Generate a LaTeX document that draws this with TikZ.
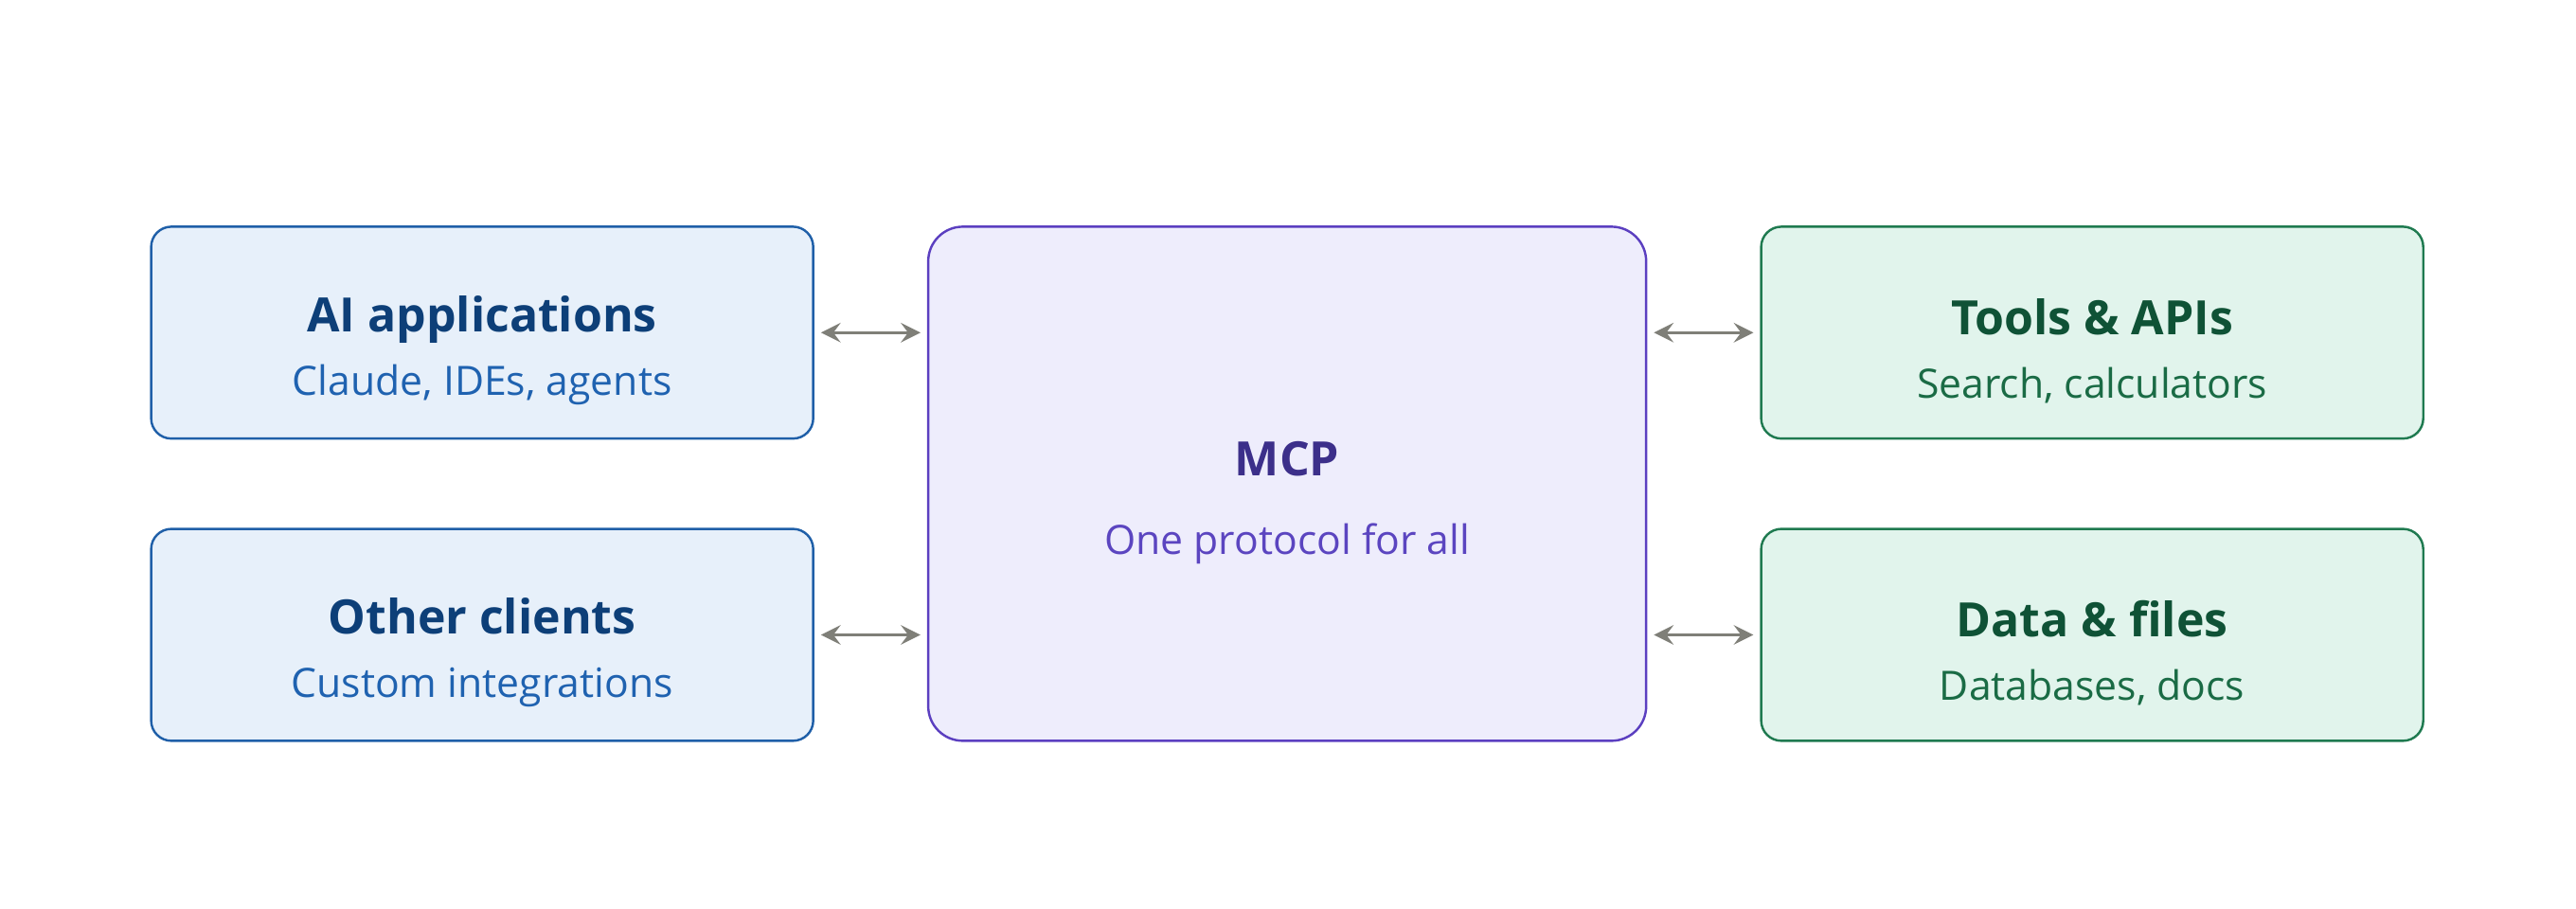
\documentclass[tikz,border=0pt]{standalone}
\usepackage{fontspec}
\setmainfont{Open Sans}
\definecolor{couleurbackclnt}{HTML}{E7F0FA}
\definecolor{couleurbordclnt}{HTML}{1F5FA8}
\definecolor{couleurtitrclnt}{HTML}{0D3F78}
\definecolor{couleurtextclnt}{HTML}{1F62B0}
\definecolor{couleurbackmcp}{HTML}{EEEDFC}
\definecolor{couleurbordmcp}{HTML}{5B3FC0}
\definecolor{couleurtitrmcp}{HTML}{3C2F8A}
\definecolor{couleurtextmcp}{HTML}{5B45C0}
\definecolor{couleurbacksrvr}{HTML}{E1F4EC}
\definecolor{couleurbordsrvr}{HTML}{1F7A50}
\definecolor{couleurtitrsrvr}{HTML}{0F5236}
\definecolor{couleurtextsrvr}{HTML}{1A6B45}
\definecolor{couleurlien}{HTML}{7F7F78}
\newcommand{\lienclnt}[2]{\draw[lien] (#1.east) -- (#1.east -| #2.west);}
\newcommand{\liensrvr}[2]{\draw[lien] (#2.west -| #1.east) -- (#2.west);}
\tikzset{
		basic/.style={draw, rounded corners=3.5pt, line width=0.4pt, minimum width=4.03cm, minimum height=1.29cm, align=center, inner sep=0pt},
		client/.style={basic, fill=couleurbackclnt, draw=couleurbordclnt},
		mcp/.style={basic, rounded corners=6pt, fill=couleurbackmcp, draw=couleurbordmcp, minimum width=4.37cm, minimum height=3.13cm},
		serveur/.style={basic, fill=couleurbacksrvr, draw=couleurbordsrvr},
		lien/.style={<->, >=stealth, couleurlien, line width=0.5pt, shorten <=0.04cm, shorten >=0.04cm}
	}
\newcommand{\titre}[4]{\rule{0pt}{12.5pt}{\fontsize{8.2}{10}\selectfont\bfseries\color{#1}#2}\\[#4]{\fontsize{7}{9}\selectfont\color{#1}#3}}
\begin{document}
\begin{tikzpicture}
		\useasboundingbox (0,0) rectangle (15.68,5.53);
		% clients
		\node[client](aiapps) at (2.935,3.505){\titre{couleurtitrclnt}{AI applications}{\color{couleurtextclnt}Claude, IDEs, agents}{-1pt}};
		\node[client](autres) at (2.935,1.665){\titre{couleurtitrclnt}{Other clients}{\color{couleurtextclnt}Custom integrations}{-1pt}};
		% protocole
		\node[mcp](mcp) at (7.835,2.585){\titre{couleurtitrmcp}{MCP}{\color{couleurtextmcp}One protocol for all}{1.5pt}};
		% serveurs
		\node[serveur](outils) at (12.735,3.505){\titre{couleurtitrsrvr}{Tools \& APIs}{\color{couleurtextsrvr}Search, calculators}{-1pt}};
		\node[serveur](donnees) at (12.735,1.665){\titre{couleurtitrsrvr}{Data \& files}{\color{couleurtextsrvr}Databases, docs}{-1pt}};
		
		% Liens
		\lienclnt{aiapps}{mcp}
		\lienclnt{autres}{mcp}
		\liensrvr{mcp}{outils}
		\liensrvr{mcp}{donnees}
	\end{tikzpicture}
\end{document}
